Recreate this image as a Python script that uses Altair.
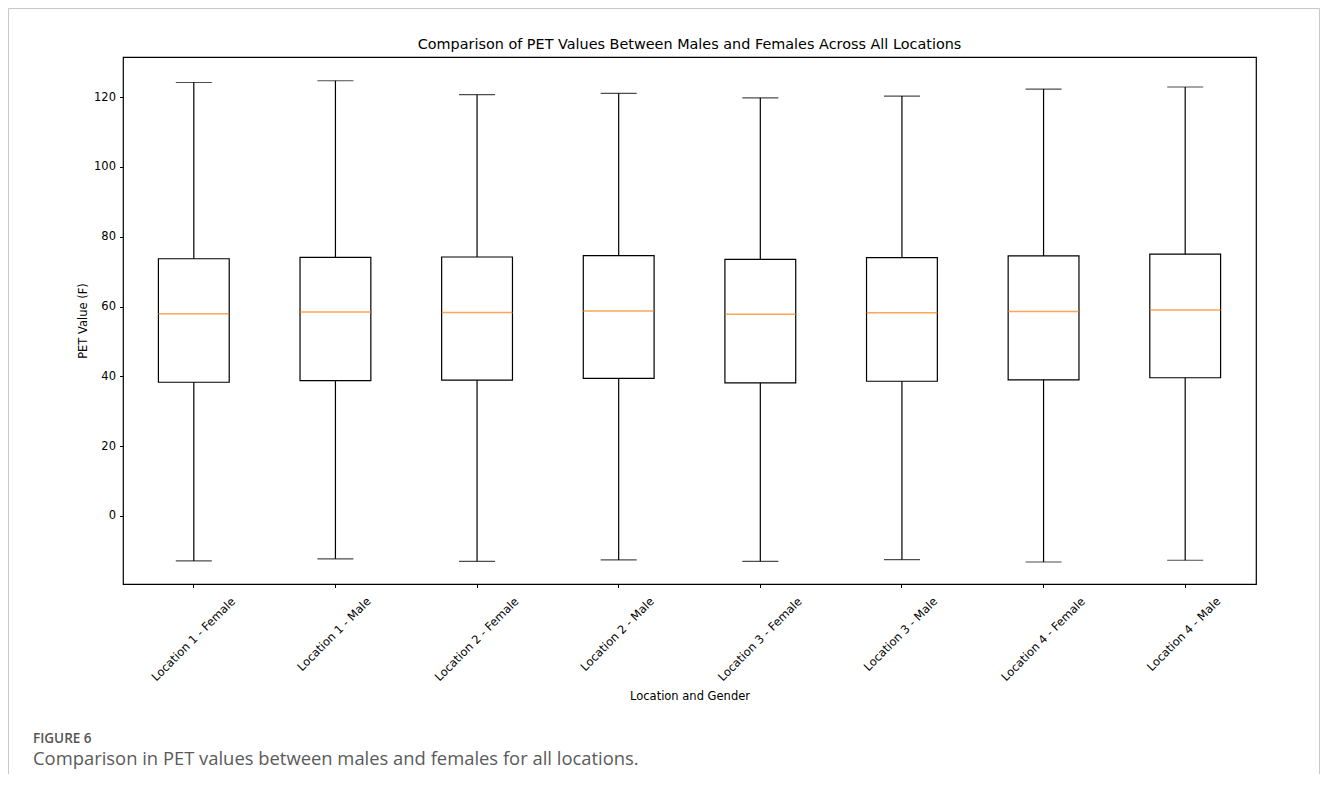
import altair as alt
import pandas as pd

categories = ["Location 1 - Female", "Location 1 - Male", "Location 2 - Female", "Location 2 - Male",
              "Location 3 - Female", "Location 3 - Male", "Location 4 - Female", "Location 4 - Male"]
mins = [-12.9, -12.3, -13.0, -12.6, -13.0, -12.5, -13.2, -12.7]
q1 = [38.3, 38.8, 38.9, 39.4, 38.1, 38.6, 39.0, 39.6]
medians = [57.9, 58.4, 58.3, 58.7, 57.8, 58.2, 58.6, 59.0]
q3 = [73.7, 74.1, 74.2, 74.6, 73.5, 74.0, 74.5, 75.0]
maxs = [124.2, 124.7, 120.7, 121.1, 119.8, 120.3, 122.3, 122.9]

title_text = "Comparison of PET Values Between Males and Females Across All Locations"
caption_head = "FIGURE 6"
caption_body = "Comparison in PET values between males and females for all locations."

df = pd.DataFrame({"cat": categories, "lo": mins, "q1": q1, "med": medians, "q3": q3, "hi": maxs})

W, H = 1133, 527
FONT = "DejaVu Sans"

xenc = alt.X("cat:N", sort=categories,
             scale=alt.Scale(paddingInner=0, paddingOuter=0),
             axis=alt.Axis(title="Location and Gender", labelAngle=-45, labelAlign="right",
                           labelBaseline="middle", labelPadding=12,
                           labelOffset={"condition": {"test": "indexof(datum.label, 'Female') >= 0", "value": 40}, "value": 34},
                           labelFont=FONT, labelFontSize=11.5, labelColor="black",
                           tickSize=3.5, tickColor="black", domain=False, grid=False,
                           titleFont=FONT, titleFontSize=11.5, titleFontWeight="normal", titleColor="black",
                           titleX=W / 2, titleY=115, titleAlign="center", titleBaseline="alphabetic"))
yscale = alt.Scale(domain=[-19.5, 131.5], nice=False, zero=False)
yaxis = alt.Axis(title="PET Value (F)", values=[0, 20, 40, 60, 80, 100, 120], grid=False,
                 labelFont=FONT, labelFontSize=11.5, labelColor="black", labelPadding=4,
                 tickSize=3.5, tickColor="black", domain=False,
                 titleFont=FONT, titleFontSize=11.5, titleFontWeight="normal", titleColor="black",
                 titleX=-37, titleY=H / 2, titleAlign="center", titleBaseline="alphabetic", titleAngle=-90)

base = alt.Chart(df)

whisk = base.mark_rule(color="black", strokeWidth=1.2).encode(
    x=xenc, y=alt.Y("lo:Q", scale=yscale, axis=yaxis), y2="hi:Q")
caps_hi = base.mark_tick(color="black", size=36, thickness=1.2, orient="horizontal").encode(
    x=alt.X("cat:N", sort=categories), y="hi:Q")
caps_lo = base.mark_tick(color="black", size=36, thickness=1.2, orient="horizontal").encode(
    x=alt.X("cat:N", sort=categories), y="lo:Q")
box = base.mark_bar(fill="white", stroke="black", strokeWidth=1.2,
                    width=alt.RelativeBandSize(0.5)).encode(
    x=alt.X("cat:N", sort=categories), y="q1:Q", y2="q3:Q")
med = base.mark_tick(color="#ff7f0e", size=71, thickness=1.5, orient="horizontal").encode(
    x=alt.X("cat:N", sort=categories), y="med:Q")

one = alt.Data(values=[{"a": 1}])
frame_col = "#c8c8c8"
frame_left = alt.Chart(one).mark_rule(color=frame_col, strokeWidth=1).encode(
    x=alt.value(-114.5), y=alt.value(-48.5), y2=alt.value(800))
frame_top = alt.Chart(one).mark_rule(color=frame_col, strokeWidth=1).encode(
    x=alt.value(-114.5), x2=alt.value(1196.5), y=alt.value(-48.5))
frame_right = alt.Chart(one).mark_rule(color=frame_col, strokeWidth=1).encode(
    x=alt.value(1196.5), y=alt.value(-48.5), y2=alt.value(800))

title = alt.Chart(one).mark_text(text=title_text, font=FONT, fontSize=14.4, color="black",
                                 align="center", baseline="alphabetic").encode(
    x=alt.value(W / 2), y=alt.value(-8))
cap1 = alt.Chart(one).mark_text(text=caption_head, font="Open Sans", fontSize=13.5, fontWeight=600,
                                color="#555555", align="left", baseline="alphabetic").encode(
    x=alt.value(-90), y=alt.value(686))
cap2 = alt.Chart(one).mark_text(text=caption_body, font="Open Sans", fontSize=18.4, color="#5a5a5a",
                                align="left", baseline="alphabetic").encode(
    x=alt.value(-90), y=alt.value(707.5))

chart = alt.layer(whisk, caps_hi, caps_lo, box, med, frame_left, frame_top, frame_right,
                  title, cap1, cap2).properties(
    width=W, height=H,
    autosize=alt.AutoSizeParams(type="none"),
    padding={"left": 115, "top": 49, "right": 64, "bottom": 190},
).configure(background="white").configure_view(stroke="black", strokeWidth=1.2)

chart.save("out.html", embed_options={"renderer": "svg", "actions": False})
